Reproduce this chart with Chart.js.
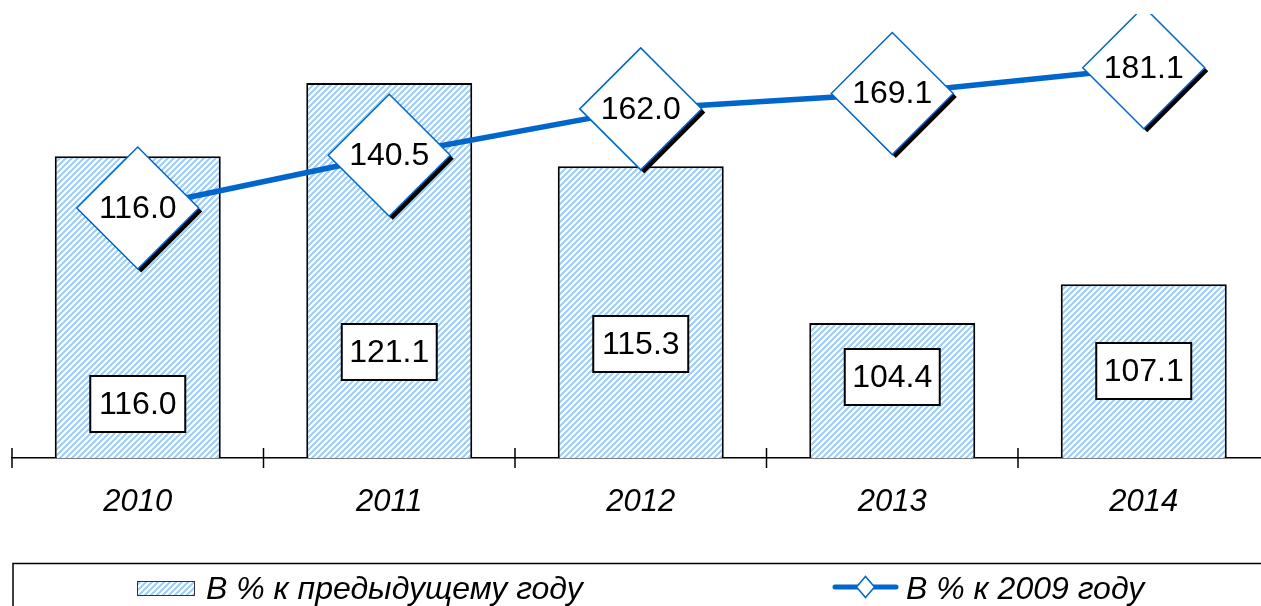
<!DOCTYPE html>
<html>
<head>
<meta charset="utf-8">
<script src="https://cdn.jsdelivr.net/npm/chart.js@4"></script>
<style>
  html, body { margin: 0; padding: 0; background: #fff; overflow: hidden; }
  #wrap { width: 1280px; height: 606px; position: relative; }
</style>
</head>
<body>
<div id="wrap"><canvas id="myChart"></canvas></div>
<script>
const years = ["2010", "2011", "2012", "2013", "2014"];
const prevYear = [116.0, 121.1, 115.3, 104.4, 107.1];
const to2009 = [116.0, 140.5, 162.0, 169.1, 181.1];
const prevYearLabel = "В % к предыдущему году";
const to2009Label = "В % к 2009 году";

const FONT = "'Liberation Sans', Arial, sans-serif";
const BLUE = "#0066cc";

// label boxes sit at different heights inside the bars (px above the axis)
const barLabelLift = [54, 106, 114, 81, 87];

function makeHatch() {
  const c = document.createElement("canvas");
  c.width = 6;
  c.height = 6;
  const g = c.getContext("2d");
  g.fillStyle = "#ffffff";
  g.fillRect(0, 0, 6, 6);
  g.fillStyle = "#a3cff9";
  for (let x = 0; x < 6; x++) {
    for (let y = 0; y < 6; y++) {
      const k = (x + y) % 6;
      if (k < 3) g.fillRect(x, y, 1, 1);
    }
  }
  return g.createPattern(c, "repeat");
}
const hatch = makeHatch();

const shadowShift = {
  id: "shadowShift",
  beforeDatasetDraw(chart, args) {
    if (chart.data.datasets[args.index].isShadow) {
      chart.ctx.save();
      chart.ctx.translate(3.5, 3.5);
    }
  },
  afterDatasetDraw(chart, args) {
    if (chart.data.datasets[args.index].isShadow) chart.ctx.restore();
  },
};

const labelsAndTicks = {
  id: "labelsAndTicks",
  afterDatasetsDraw(chart) {
    const ctx = chart.ctx;
    const area = chart.chartArea;

    // bar value boxes
    const barMeta = chart.getDatasetMeta(0);
    ctx.save();
    ctx.font = "32px " + FONT;
    ctx.textAlign = "center";
    ctx.textBaseline = "middle";
    barMeta.data.forEach((el, i) => {
      const cy = area.bottom - barLabelLift[i];
      const w = 95, h = 56;
      ctx.fillStyle = "#fff";
      ctx.fillRect(el.x - w / 2, cy - h / 2, w, h);
      ctx.strokeStyle = "#000";
      ctx.lineWidth = 2;
      ctx.strokeRect(el.x - w / 2, cy - h / 2, w, h);
      ctx.fillStyle = "#000";
      ctx.fillText(prevYear[i].toFixed(1), el.x, cy + 1);
    });

    // line value labels inside diamonds
    const lineMeta = chart.getDatasetMeta(2);
    lineMeta.data.forEach((el, i) => {
      ctx.fillStyle = "#000";
      ctx.fillText(to2009[i].toFixed(1), el.x, el.y + 1);
    });

    // axis tick marks crossing the axis line
    const xs = chart.scales.x;
    const n = years.length;
    ctx.strokeStyle = "#000";
    ctx.lineWidth = 1.5;
    for (let i = 0; i <= n; i++) {
      const x = xs.left + (i * xs.width) / n;
      ctx.beginPath();
      ctx.moveTo(x, area.bottom - 10);
      ctx.lineTo(x, area.bottom + 10);
      ctx.stroke();
    }
    ctx.restore();
  },
  afterDraw(chart) {
    const ctx = chart.ctx;
    ctx.save();
    // legend frame
    ctx.strokeStyle = "#000";
    ctx.lineWidth = 1.5;
    ctx.strokeRect(13, 563.5, 1300, 100);

    ctx.font = "italic 32px " + FONT;
    ctx.textBaseline = "alphabetic";
    ctx.textAlign = "left";

    // bar item
    ctx.fillStyle = hatch;
    ctx.fillRect(137, 581, 58, 15);
    ctx.strokeStyle = "#333";
    ctx.lineWidth = 1;
    ctx.strokeRect(137.5, 581.5, 57, 14);
    ctx.fillStyle = "#000";
    ctx.fillText(chart.data.datasets[0].label, 206, 599);

    // line item
    ctx.strokeStyle = BLUE;
    ctx.lineWidth = 5;
    ctx.lineCap = "round";
    ctx.beginPath();
    ctx.moveTo(835, 587);
    ctx.lineTo(896, 587);
    ctx.stroke();
    ctx.beginPath();
    ctx.moveTo(856.5, 587);
    ctx.lineTo(865.5, 576.5);
    ctx.lineTo(874.5, 587);
    ctx.lineTo(865.5, 597.5);
    ctx.closePath();
    ctx.fillStyle = "#fff";
    ctx.fill();
    ctx.lineWidth = 1.5;
    ctx.stroke();
    ctx.fillStyle = "#000";
    ctx.fillText(chart.data.datasets[2].label, 906, 599);
    ctx.restore();
  },
};

const ctx = document.getElementById("myChart");
new Chart(ctx, {
  data: {
    labels: years,
    datasets: [
      {
        type: "bar",
        label: prevYearLabel,
        data: prevYear,
        yAxisID: "y",
        backgroundColor: hatch,
        borderColor: "#000",
        borderWidth: 2,
        barPercentage: 0.66,
        categoryPercentage: 1,
        order: 3,
      },
      {
        type: "line",
        label: "shadow",
        isShadow: true,
        data: to2009,
        yAxisID: "y1",
        showLine: false,
        pointStyle: "rectRot",
        pointRadius: 61,
        pointBackgroundColor: "#000",
        pointBorderWidth: 0,
        clip: { left: 30, top: 10, right: 30, bottom: 30 },
        order: 2,
      },
      {
        type: "line",
        label: to2009Label,
        data: to2009,
        yAxisID: "y1",
        borderColor: BLUE,
        borderWidth: 5.5,
        tension: 0,
        pointStyle: "rectRot",
        pointRadius: 61,
        pointBackgroundColor: "#fff",
        pointBorderColor: BLUE,
        pointBorderWidth: 1.5,
        clip: { left: 30, top: 13, right: 30, bottom: 30 },
        order: 1,
      },
    ],
  },
  options: {
    responsive: true,
    maintainAspectRatio: false,
    animation: false,
    layout: { autoPadding: false, padding: { left: 12, top: 27, right: 10.5, bottom: 0 } },
    plugins: {
      legend: { display: false },
      tooltip: { enabled: false },
    },
    scales: {
      x: {
        grid: { display: false },
        border: { display: true, color: "#000", width: 1.5 },
        ticks: {
          color: "#000",
          padding: 18,
          font: { family: FONT, size: 31, style: "italic" },
        },
        afterFit(scale) {
          scale.height = 148;
        },
      },
      y: { display: false, min: 95, max: 125 },
      y1: { display: false, min: 0, max: 200 },
    },
  },
  plugins: [shadowShift, labelsAndTicks],
});
</script>
</body>
</html>
